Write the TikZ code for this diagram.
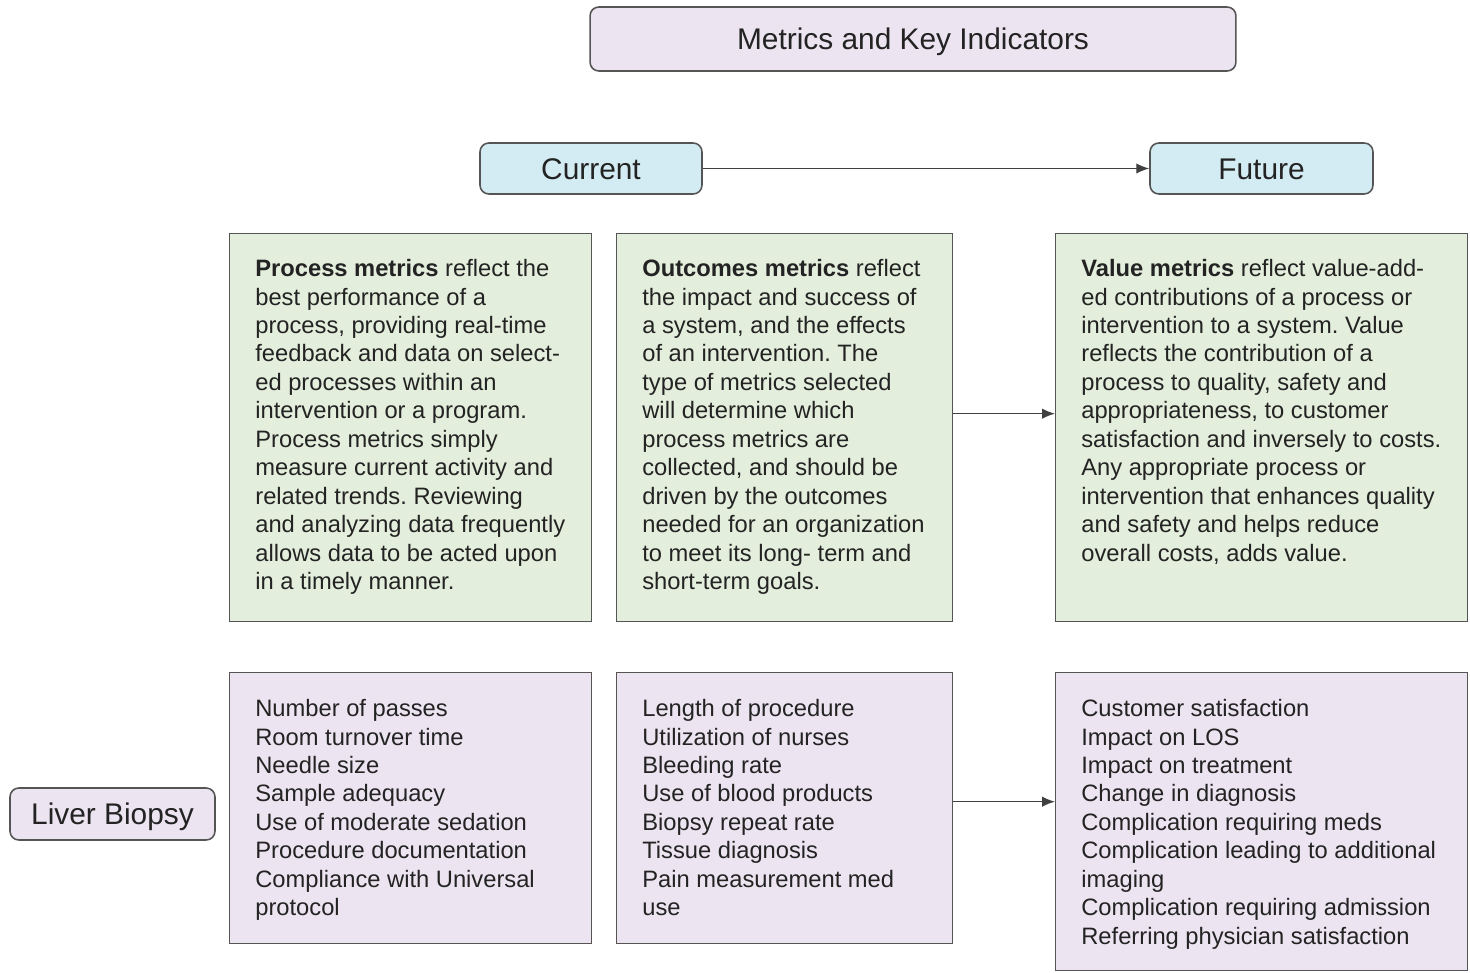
\documentclass[tikz,border=0pt]{standalone}
\usepackage{fontspec}
\setmainfont{Liberation Sans}
\usetikzlibrary{arrows.meta}
\frenchspacing

\definecolor{boxline}{RGB}{85,85,85}
\definecolor{lilac}{RGB}{236,228,240}
\definecolor{sky}{RGB}{211,236,243}
\definecolor{mint}{RGB}{228,238,220}
\definecolor{ink}{RGB}{35,35,35}

\tikzset{
  headbox/.style={draw=boxline, line width=0.9pt, rounded corners=5pt,
    text=ink, inner sep=0pt, text height=12.2pt, text depth=0pt,
    font=\fontsize{17}{20}\selectfont},
  metricbox/.style={draw=boxline, line width=0.8pt, anchor=north west,
    minimum height=7.76cm, inner sep=0pt},
  listbox/.style={draw=boxline, line width=0.8pt, anchor=north west,
    minimum height=5.42cm, inner sep=0pt},
  metrictext/.style={anchor=north west, inner sep=0pt, align=left,
    text=ink, font=\fontsize{13.5}{16.2}\selectfont},
  flow/.style={draw=black!75, line width=0.8pt, -{Latex[length=2.6mm,width=2.1mm]}}
}

\begin{document}
\begin{tikzpicture}[x=0.02cm,y=-0.02cm]
  \useasboundingbox (0,0) rectangle (1470,973);

  \node[headbox, fill=lilac, minimum width=12.92cm, minimum height=1.28cm] (title) at (913,39) {Metrics and Key Indicators};
  \node[headbox, fill=sky, minimum width=4.44cm, minimum height=1.02cm] (now) at (591,168.5) {Current};
  \node[headbox, fill=sky, minimum width=4.46cm, minimum height=1.02cm] (later) at (1261.5,168.5) {Future};
  \node[headbox, fill=lilac, minimum width=4.1cm, minimum height=1.04cm] (liver) at (112.5,814) {Liver Biopsy};

  \draw[flow] (now) -- (later);

  % metric definitions
  \node[metricbox, fill=mint, minimum width=7.24cm] (proc) at (229,233) {};
  \node[metricbox, fill=mint, minimum width=6.72cm] (outc) at (616,233) {};
  \node[metricbox, fill=mint, minimum width=8.24cm] (valu) at (1055,233) {};

  \node[metrictext] (proctext) at (255,259) {\textbf{Process metrics} reflect the\\
    best performance of a\\
    process, providing real-time\\
    feedback and data on select-\\
    ed processes within an\\
    intervention or a program.\\
    Process metrics simply\\
    measure current activity and\\
    related trends. Reviewing\\
    and analyzing data frequently\\
    allows data to be acted upon\\
    in a timely manner.};
  \node[metrictext] (outctext) at (642,259) {\textbf{Outcomes metrics} reflect\\
    the impact and success of\\
    a system, and the effects\\
    of an intervention. The\\
    type of metrics selected\\
    will determine which\\
    process metrics are\\
    collected, and should be\\
    driven by the outcomes\\
    needed for an organization\\
    to meet its long- term and\\
    short-term goals.};
  \node[metrictext] (valutext) at (1081,259) {\textbf{Value metrics} reflect value-add-\\
    ed contributions of a process or\\
    intervention to a system. Value\\
    reflects the contribution of a\\
    process to quality, safety and\\
    appropriateness, to customer\\
    satisfaction and inversely to costs.\\
    Any appropriate process or\\
    intervention that enhances quality\\
    and safety and helps reduce\\
    overall costs, adds value.};

  \draw[flow] ([yshift=0.28cm]outc.east) -- ([yshift=0.28cm]outc.east -| valu.west);

  % liver biopsy examples
  \node[listbox, fill=lilac, minimum width=7.24cm] (proclist) at (229,672) {};
  \node[listbox, fill=lilac, minimum width=6.72cm] (outclist) at (616,672) {};
  \node[listbox, fill=lilac, minimum width=8.24cm, minimum height=5.96cm] (valulist) at (1055,672) {};

  \node[metrictext] (proclisttext) at (255,699) {Number of passes\\
    Room turnover time\\
    Needle size\\
    Sample adequacy\\
    Use of moderate sedation\\
    Procedure documentation\\
    Compliance with Universal\\
    protocol};
  \node[metrictext] (outclisttext) at (642,699) {Length of procedure\\
    Utilization of nurses\\
    Bleeding rate\\
    Use of blood products\\
    Biopsy repeat rate\\
    Tissue diagnosis\\
    Pain measurement med\\
    use};
  \node[metrictext] (valulisttext) at (1081,699) {Customer satisfaction\\
    Impact on LOS\\
    Impact on treatment\\
    Change in diagnosis\\
    Complication requiring meds\\
    Complication leading to additional\\
    imaging\\
    Complication requiring admission\\
    Referring physician satisfaction};

  \draw[flow] ([yshift=0.13cm]outclist.east) -- ([yshift=0.13cm]outclist.east -| valulist.west);
\end{tikzpicture}
\end{document}
